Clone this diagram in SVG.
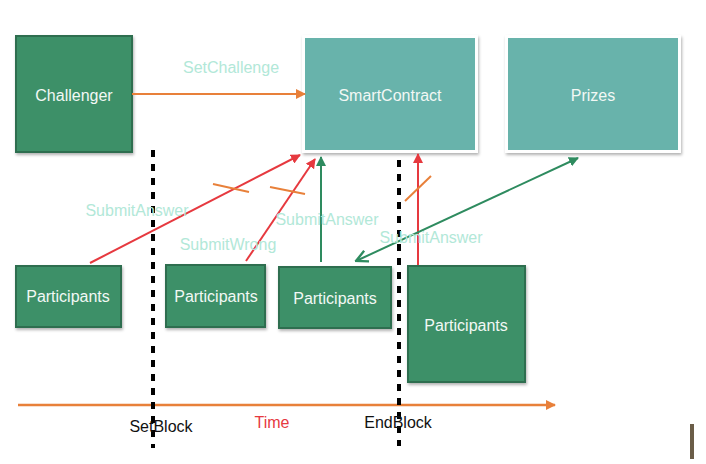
<svg xmlns="http://www.w3.org/2000/svg" width="706" height="464" viewBox="0 0 706 464">
<defs>
<filter id="sh" x="-10%" y="-10%" width="130%" height="130%"><feDropShadow dx="1" dy="2" stdDeviation="1.5" flood-color="#000" flood-opacity="0.3"/></filter>
<marker id="ao" viewBox="0 0 10 10" refX="9" refY="5" markerWidth="10" markerHeight="10" markerUnits="userSpaceOnUse" orient="auto"><path d="M0,0 L10,5 L0,10 z" fill="#e8803a"/></marker>
<marker id="ar" viewBox="0 0 10 10" refX="9" refY="5" markerWidth="10" markerHeight="10" markerUnits="userSpaceOnUse" orient="auto"><path d="M0,0 L10,5 L0,10 z" fill="#e6393f"/></marker>
<marker id="ag" viewBox="0 0 10 10" refX="9" refY="5" markerWidth="10" markerHeight="10" markerUnits="userSpaceOnUse" orient="auto"><path d="M0,0 L10,5 L0,10 z" fill="#2e8b5f"/></marker>
<marker id="agv" viewBox="0 0 12 12" refX="11" refY="6" markerWidth="14" markerHeight="14" markerUnits="userSpaceOnUse" orient="auto-start-reverse"><path d="M1,1 L11,6 L1,11" fill="none" stroke="#2e8b5f" stroke-width="2"/></marker>
</defs>
<style>
text{font-family:"Liberation Sans",Arial,sans-serif;font-size:16px;text-anchor:middle}
.dg{fill:#3e9068;stroke:#2f6e50;stroke-width:2;filter:url(#sh)}
.tl{fill:#68b3ab}
.wb{fill:#fff;filter:url(#sh)}
.nt{fill:#f2f8f5}
.lb{fill:#b2e8d8;font-size:16px}
.bk{fill:#111}
.dash{stroke:#000;stroke-width:4;stroke-dasharray:7 7;fill:none}
</style>
<g id="timeline">
<line x1="18" y1="405" x2="555" y2="405" stroke="#e8803a" stroke-width="2.5" marker-end="url(#ao)"/>
<line class="dash" x1="153" y1="150" x2="153" y2="448"/>
<line class="dash" x1="399" y1="160" x2="399" y2="446"/>
<text class="bk" x="161" y="432">SetBlock</text>
<text x="272" y="428" fill="#e6393f">Time</text>
<text class="bk" x="398" y="428">EndBlock</text>
</g>
<g id="challenger">
<rect class="dg" x="16" y="36" width="116" height="116"/>
<text class="nt" x="74" y="101">Challenger</text>
</g>
<g id="smartcontract">
<rect class="wb" x="302" y="35" width="176" height="118"/>
<rect class="tl" x="305" y="38" width="170" height="112"/>
<text class="nt" x="390" y="101">SmartContract</text>
</g>
<g id="prizes">
<rect class="wb" x="505" y="35" width="176" height="118"/>
<rect class="tl" x="508" y="38" width="170" height="112"/>
<text class="nt" x="593" y="101">Prizes</text>
</g>
<g id="participants1">
<rect class="dg" x="16" y="266" width="105" height="61"/>
<text class="nt" x="68" y="302">Participants</text>
</g>
<g id="participants2">
<rect class="dg" x="166" y="265" width="99" height="62"/>
<text class="nt" x="216" y="302">Participants</text>
</g>
<g id="participants3">
<rect class="dg" x="279" y="267" width="112" height="61"/>
<text class="nt" x="335" y="304">Participants</text>
</g>
<g id="participants4">
<rect class="dg" x="408" y="266" width="117" height="116"/>
<text class="nt" x="466" y="331">Participants</text>
</g>
<g id="connectors">
<line x1="132" y1="94" x2="305" y2="94" stroke="#e8803a" stroke-width="2" marker-end="url(#ao)"/>
<line x1="90" y1="263" x2="300" y2="155" stroke="#e6393f" stroke-width="2" marker-end="url(#ar)"/>
<line x1="246" y1="261" x2="315" y2="159" stroke="#e6393f" stroke-width="2" marker-end="url(#ar)"/>
<line x1="321" y1="262" x2="321" y2="157" stroke="#2e8b5f" stroke-width="2" marker-end="url(#ag)"/>
<line x1="418" y1="265" x2="418" y2="154" stroke="#e6393f" stroke-width="2" marker-end="url(#ar)"/>
<line x1="356" y1="261" x2="578" y2="158" stroke="#2e8b5f" stroke-width="2" marker-start="url(#agv)" marker-end="url(#ag)"/>
<line x1="213" y1="184" x2="249" y2="192" stroke="#e8803a" stroke-width="2"/>
<line x1="270" y1="187" x2="305" y2="194" stroke="#e8803a" stroke-width="2"/>
<line x1="431" y1="176" x2="405" y2="201" stroke="#e8803a" stroke-width="2"/>
<text class="lb" x="231" y="73">SetChallenge</text>
<text class="lb" x="137" y="216">SubmitAnswer</text>
<text class="lb" x="228" y="250">SubmitWrong</text>
<text class="lb" x="327" y="225">SubmitAnswer</text>
<text class="lb" x="431" y="243">SubmitAnswer</text>
</g>
<rect x="690" y="424" width="4" height="35" fill="#6b5d48"/>
</svg>
